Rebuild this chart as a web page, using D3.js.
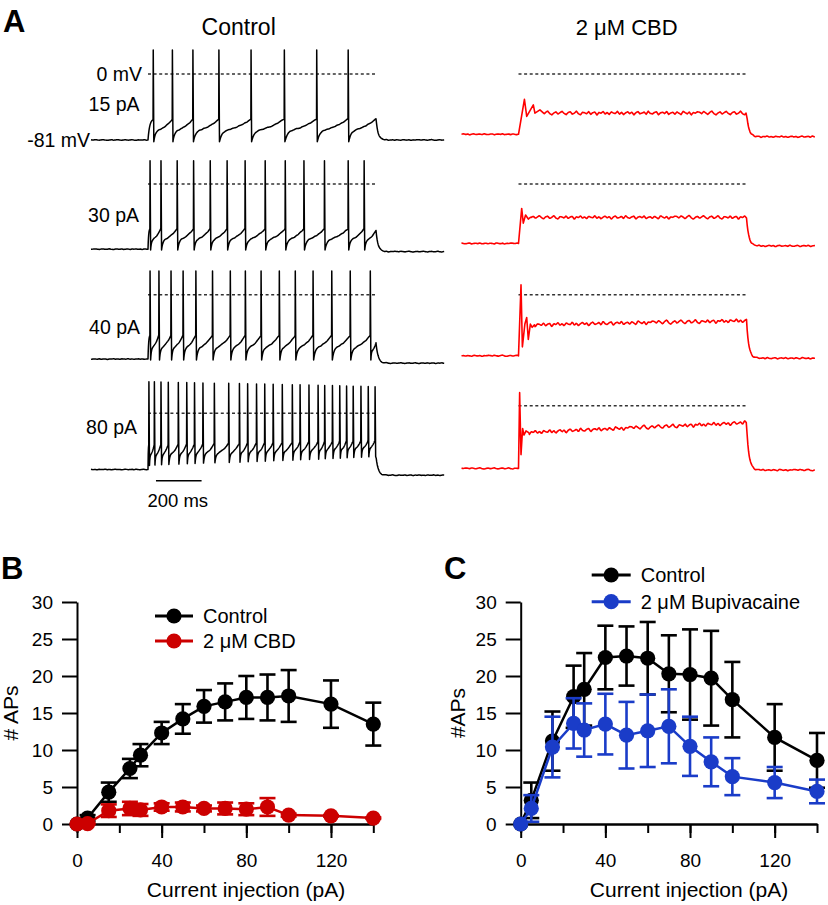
<!DOCTYPE html>
<html><head><meta charset="utf-8">
<script src="https://cdn.jsdelivr.net/npm/d3@7"></script>
<style>
body{margin:0;background:#fff}
svg{display:block;font-family:"Liberation Sans",Arial,Helvetica,sans-serif}
</style>
</head><body>
<svg id="fig" width="828" height="905"></svg>
<script>
// ================= DATA =================
// Panels B & C: current steps (pA)
const currents = [0, 5, 15, 25, 30, 40, 50, 60, 70, 80, 90, 100, 120, 140];
// Panel B
const bControlMean = [0, 0.8, 4.3, 7.5, 9.3, 12.3, 14.2, 15.9, 16.5, 17.1, 17.1, 17.3, 16.2, 13.5];
const bControlSem  = [0, 0.4, 1.3, 1.3, 1.5, 1.5, 2.0, 2.2, 2.5, 2.9, 3.1, 3.5, 3.2, 2.9];
const bCbdMean     = [0, 0.05, 1.8, 2.1, 1.9, 2.3, 2.3, 2.1, 2.1, 2.0, 2.3, 1.2, 1.1, 0.8];
const bCbdSem      = [0, 0.1, 0.85, 0.9, 0.8, 0.5, 0.6, 0.4, 0.8, 0.8, 1.2, 0.2, 0.1, 0.1];
// Panel C
const cControlMean = [0, 3.2, 11.2, 17.2, 18.2, 22.5, 22.7, 22.4, 20.3, 20.2, 19.7, 16.8, 11.7, 8.6];
const cControlSem  = [0, 2.4, 4.0, 4.2, 4.9, 4.3, 4.0, 4.9, 5.2, 6.1, 6.4, 5.1, 4.5, 3.7];
const cBupiMean    = [0, 2.1, 10.4, 13.6, 12.7, 13.5, 12.0, 12.6, 13.2, 10.5, 8.4, 6.4, 5.6, 4.4];
const cBupiSem     = [0, 1.8, 4.1, 3.4, 3.6, 4.1, 4.5, 4.9, 5.0, 4.0, 3.3, 2.5, 2.1, 1.6];
const yTicks = [0, 5, 10, 15, 20, 25, 30];
const xTicksAll = [0, 20, 40, 60, 80, 100, 120, 140];
const xTickLabels = [0, 40, 80, 120];

// Panel A: example traces (times in ms from step onset, voltages in mV)
const stepLabels = ["15 pA", "30 pA", "40 pA", "80 pA"];
const ctrlSpikes = [
  [23, 107, 197, 311, 452, 598, 740, 878],
  [9, 57, 128, 200, 273, 347, 426, 514, 602, 684, 774, 878, 948],
  [9, 48, 101, 154, 210, 283, 361, 427, 496, 576, 646, 724, 806, 887, 975],
  [4, 28, 57, 89, 133, 170, 204, 241, 291, 354, 401, 437, 476, 512, 549, 589, 633, 667, 706, 746, 775, 809, 841, 871, 900, 934, 966, 996]
];
const ctrlRest   = [-81, -80, -79, -69];
const ctrlPost   = [-81, -83, -84, -76];
const ctrlPeak   = [[29.5, 29.5], [28.6, 28.6], [29, 29], [38.8, 32.6]];
const ctrlTrough = [[-83, -83], [-81, -81], [-80, -80], [-64, -53]];
const ctrlThr    = [[-56, -55], [-55, -55], [-50, -50], [-39, -33]];
const ctrlEnd    = [-55, -57, -59, -53];
const cbdRest    = [-74, -73, -75, -77];
const cbdPost    = [-77, -76, -78, -79];
const cbdOnset = [
  [[0, -74], [26, -31], [36, -52], [65, -38], [72, -48], [94, -44], [110, -48]],
  [[0, -73], [14, -30], [21, -48], [31, -38], [43, -43], [52, -41]],
  [[0, -75], [11, 12], [17, -64], [28, -36], [36, -28], [43, -55], [52, -36], [60, -40], [70, -37]],
  [[0, -77], [5, 16], [11, -60], [18, -28], [24, -36], [33, -31], [45, -33]]
];
const cbdPlateau = [[-48, -48], [-41, -41], [-37, -32], [-33, -21]];
const cbdNoiseAmp = [1.8, 1.8, 2.1, 2.1];
// hand-read membrane-noise wiggle (mV), reused along the traces
const wiggle = [0.6,-0.4,1.1,0.2,-0.9,0.5,1.4,-0.3,-1.2,0.1,0.8,-0.6,0.3,1.2,-0.2,-1.0,0.4,0.9,-0.7,0.0,
  1.3,-0.5,-1.1,0.6,0.2,-0.4,1.0,-0.8,0.3,0.7,-1.3,0.5,-0.1,1.1,-0.6,0.4,-0.9,0.8,0.1,-0.3,
  1.2,-0.7,0.5,-1.0,0.2,0.9,-0.4,0.6,-1.2,0.3,1.0,-0.5,0.0,0.7,-0.8,1.3,-0.2,-0.6,0.4,0.9,
  -1.1,0.2,0.6,-0.3,1.1,-0.9,0.1,0.5,-0.7,0.8,-0.1,-1.0,1.2,0.3,-0.5,0.7,-1.2,0.4,0.0,0.9];

// ================= DRAWING =================
const FONT = "'Liberation Sans', Arial, Helvetica, sans-serif";
const svg = d3.select("#fig");
const RED = "#ff0000", DRED = "#cc0000", BLUE = "#1a3cc8";

function txt(x, y, s, size, anchor, opts = {}) {
  const t = svg.append("text").attr("x", x).attr("y", y).text(s)
    .attr("font-size", size).attr("text-anchor", anchor || "start")
    .attr("font-family", FONT).attr("fill", "#000");
  if (opts.bold) t.attr("font-weight", "bold");
  if (opts.transform) t.attr("transform", opts.transform);
  return t;
}

// Panel letters
txt(3, 32, "A", 31, "start", {bold: true});
txt(1, 579, "B", 31, "start", {bold: true});
txt(444, 579, "C", 31, "start", {bold: true});

// ---------- Panel A ----------
const N = wiggle.length;
function wig(t, k) {
  const p = (t + 250) / 9 + k * 11;
  const i0 = Math.floor(p), f = p - i0;
  const a = wiggle[((i0 % N) + N) % N], b = wiggle[(((i0 + 1) % N) + N) % N];
  return a + (b - a) * f;
}
const tCtrl = d3.scaleLinear().domain([-250, 1300]).range([148 - 250 * 0.228, 148 + 1300 * 0.228]);
const tCbd  = d3.scaleLinear().domain([-250, 1300]).range([518.5 - 250 * 0.228, 518.5 + 1300 * 0.228]);
const zeroCtrl = [74, 184, 294.7, 413.3];
const zeroCbd  = [74, 184, 294.7, 405.7];
const vScale = z => d3.scaleLinear().domain([0, -81]).range([z, z + 66]);

function ctrlPoints(i) {
  const sp = ctrlSpikes[i], n = sp.length, rest = ctrlRest[i];
  const lin = (arr, k) => arr[0] + (arr[1] - arr[0]) * k / Math.max(1, n - 1);
  const pk = k => lin(ctrlPeak[i], k), tr = k => lin(ctrlTrough[i], k), th = k => lin(ctrlThr[i], k);
  const pts = [];
  for (let t = -250; t < 0; t += 4) pts.push([t, rest + 0.35 * wig(t, i)]);
  const t0 = sp[0] - 0.8, th0 = th(0);
  for (let t = 0; t < t0; t += 1) {
    const u = t / t0;
    pts.push([t, rest + (th0 - rest) * (1 - Math.exp(-3 * u)) / (1 - Math.exp(-3))]);
  }
  let vEnd = ctrlEnd[i];
  for (let k = 0; k < n; k++) {
    const ts = sp[k];
    pts.push([ts - 0.8, th(k)]);
    pts.push([ts, pk(k)]);
    pts.push([ts + 2.5, tr(k)]);
    const next = k < n - 1 ? sp[k + 1] - 0.8 : 1000;
    const target = k < n - 1 ? th(k + 1) : ctrlEnd[i];
    const a = ts + 2.5, span = next - a;
    if (span > 3) {
      for (let t = a + 1; t < next; t += 1.5) {
        const u = (t - a) / span;
        const f = 0.5 * (1 - Math.exp(-12 * u)) + 0.5 * u * u;
        pts.push([t, tr(k) + (target - tr(k)) * f + 0.35 * wig(t, i)]);
      }
      if (k === n - 1) pts.push([1000, target]);
    } else if (k === n - 1) {
      vEnd = tr(k);
    }
  }
  const post = ctrlPost[i];
  for (let t = 1001; t <= 1300; t += 2)
    pts.push([t, post + (vEnd - post) * Math.exp(-(t - 1000) / 9) + 0.4 * wig(t, i)]);
  return pts;
}

function cbdPoints(i) {
  const on = cbdOnset[i], rest = cbdRest[i], amp = cbdNoiseAmp[i];
  const pts = [];
  for (let t = -250; t < 0; t += 4) pts.push([t, rest + 0.6 * wig(t, i + 4)]);
  on.forEach(p => pts.push(p));
  const tS = on[on.length - 1][0], p = cbdPlateau[i];
  for (let t = tS + 3; t <= 1000; t += 3)
    pts.push([t, p[0] + (p[1] - p[0]) * (t - tS) / (1000 - tS) + amp * wig(t, i + 4)]);
  const post = cbdPost[i], vEnd = p[1];
  for (let t = 1003; t <= 1300; t += 3)
    pts.push([t, post + (vEnd - post) * Math.exp(-(t - 1000) / 10) + 0.8 * wig(t, i + 4)]);
  return pts;
}

const gA = svg.append("g");
for (let i = 0; i < 4; i++) {
  const vc = vScale(zeroCtrl[i]);
  const vr = vScale(zeroCbd[i]);
  // 0 mV dotted lines
  gA.append("line").attr("x1", tCtrl(0)).attr("x2", tCtrl(1000)).attr("y1", vc(0)).attr("y2", vc(0))
    .attr("stroke", "#333").attr("stroke-width", 1.4).attr("stroke-dasharray", "3,2.6");
  gA.append("line").attr("x1", tCbd(0)).attr("x2", tCbd(1000)).attr("y1", vr(0)).attr("y2", vr(0))
    .attr("stroke", "#333").attr("stroke-width", 1.4).attr("stroke-dasharray", "3,2.6");
  const lc = d3.line().x(d => tCtrl(d[0])).y(d => vc(d[1]));
  const lr = d3.line().x(d => tCbd(d[0])).y(d => vr(d[1]));
  gA.append("path").attr("d", lc(ctrlPoints(i))).attr("fill", "none").attr("stroke", "#000")
    .attr("stroke-width", 1.5).attr("stroke-linejoin", "round");
  gA.append("path").attr("d", lr(cbdPoints(i))).attr("fill", "none").attr("stroke", RED)
    .attr("stroke-width", 1.6).attr("stroke-linejoin", "round");
}
// labels in A
txt(238.7, 34.5, "Control", 23, "middle");
txt(626.7, 35, "2 \u03bcM CBD", 22, "middle");
txt(142, 80.5, "0 mV", 19.5, "end");
txt(90, 146.5, "-81 mV", 19.5, "end");
const stepLabelY = [111, 221.7, 334, 434];
const stepLabelX = [139.5, 139, 140, 137];
stepLabels.forEach((s, i) => txt(stepLabelX[i], stepLabelY[i], s, 19.5, "end"));
// scale bar 200 ms
gA.append("line").attr("x1", tCtrl(35)).attr("x2", tCtrl(235)).attr("y1", 480.7).attr("y2", 480.7)
  .attr("stroke", "#000").attr("stroke-width", 1.5);
txt((tCtrl(35) + tCtrl(235)) / 2 - 1, 506.5, "200 ms", 18.5, "middle");

// ---------- Panels B & C ----------
const yS = d3.scaleLinear().domain([0, 30]).range([824, 602]);

function styleAxis(g) {
  g.selectAll(".domain").attr("stroke", "#000").attr("stroke-width", 2);
  g.selectAll(".tick line").attr("stroke", "#000").attr("stroke-width", 2);
  g.selectAll(".tick text").attr("font-size", 19).attr("font-family", FONT).attr("fill", "#000");
}

function drawSeries(g, x, mean, sem, color) {
  const pts = currents.map((c, i) => ({x: c, m: mean[i], s: sem[i]}));
  g.append("path").attr("d", d3.line().x(d => x(d.x)).y(d => yS(d.m))(pts))
    .attr("fill", "none").attr("stroke", color).attr("stroke-width", 2.5);
  const eb = g.append("g").attr("stroke", color).attr("stroke-width", 2.6);
  pts.filter(d => d.s > 0).forEach(d => {
    const cx = x(d.x), y1 = yS(d.m + d.s), y2 = yS(d.m - d.s);
    eb.append("line").attr("x1", cx).attr("x2", cx).attr("y1", y1).attr("y2", y2);
    eb.append("line").attr("x1", cx - 8).attr("x2", cx + 8).attr("y1", y1).attr("y2", y1);
    eb.append("line").attr("x1", cx - 8).attr("x2", cx + 8).attr("y1", y2).attr("y2", y2);
  });
  g.selectAll(null).data(pts).enter().append("circle")
    .attr("cx", d => x(d.x)).attr("cy", d => yS(d.m)).attr("r", 7.6).attr("fill", color);
}

function legendItem(x1, x2, y, color, label) {
  svg.append("line").attr("x1", x1).attr("x2", x2).attr("y1", y).attr("y2", y)
    .attr("stroke", color).attr("stroke-width", 3);
  svg.append("circle").attr("cx", (x1 + x2) / 2).attr("cy", y).attr("r", 7.6).attr("fill", color);
  txt(x2 + 10, y + 7.2, label, 20, "start");
}

function panel(x0, x1, series, ylab, ylabX, titleX) {
  const x = d3.scaleLinear().domain([0, 140]).range([x0, x1]);
  const g = svg.append("g");
  const ya = g.append("g").attr("transform", `translate(${x0},0)`)
    .call(d3.axisLeft(yS).tickValues(yTicks).tickSize(15).tickSizeOuter(0).tickPadding(9));
  const xm = g.append("g").attr("transform", "translate(0,824)")
    .call(d3.axisBottom(x).tickValues(xTicksAll).tickSize(9).tickSizeOuter(0).tickFormat(""));
  const xa = g.append("g").attr("transform", "translate(0,824)")
    .call(d3.axisBottom(x).tickValues(xTickLabels).tickSize(14).tickSizeOuter(0).tickPadding(16));
  [ya, xm, xa].forEach(styleAxis);
  series.forEach(s => drawSeries(g, x, s.mean, s.sem, s.color));
  txt(titleX, 897, "Current injection (pA)", 21, "middle");
  txt(0, 0, ylab, 21, "middle", {transform: `translate(${ylabX},713) rotate(-90)`});
}

panel(77, 373.3, [
  {mean: bControlMean, sem: bControlSem, color: "#000"},
  {mean: bCbdMean, sem: bCbdSem, color: DRED}
], "# APs", 18, 246);
legendItem(155, 193, 616, "#000", "Control");
legendItem(155, 193, 641, DRED, "2 \u03bcM CBD");

panel(520.7, 817, [
  {mean: cControlMean, sem: cControlSem, color: "#000"},
  {mean: cBupiMean, sem: cBupiSem, color: BLUE}
], "#APs", 465, 689);
legendItem(591.7, 630.7, 575, "#000", "Control");
legendItem(591.7, 630.7, 601.7, BLUE, "2 \u03bcM Bupivacaine");
</script>
</body></html>
